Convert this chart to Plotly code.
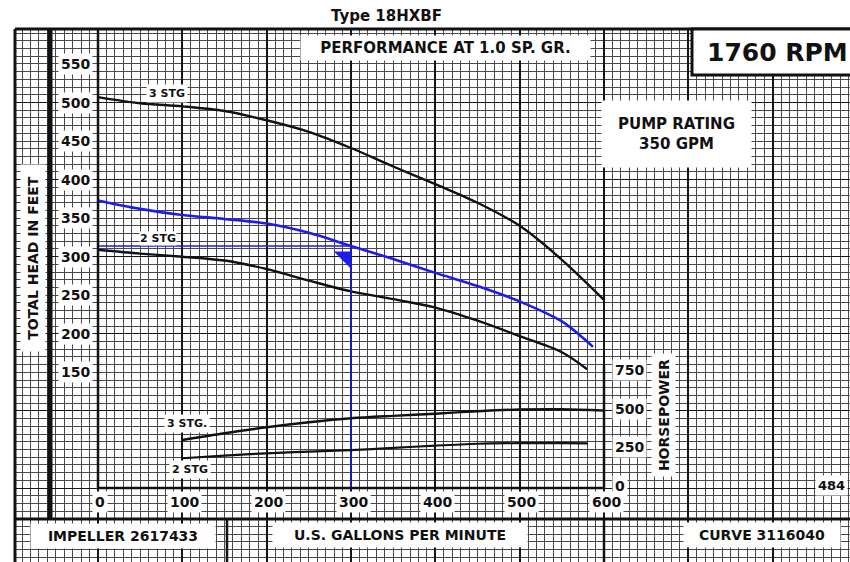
import plotly.graph_objects as go

W, H = 850, 562

# ---- curve data (flow in US GPM, head in feet, power in HP) ----
gpm_3stg = [0, 50, 100, 150, 200, 250, 300, 350, 400, 450, 500, 550, 600]
head_3stg = [507, 499, 495, 489, 477, 462, 441, 417, 394, 370, 340, 296, 244]

gpm_2stg = [0, 50, 100, 150, 200, 250, 300, 350, 400, 450, 500, 550, 580]
head_2stg = [309, 304, 300, 295, 284, 269, 255, 245, 234, 217, 197, 176, 154]

gpm_trim = [0, 50, 100, 150, 200, 250, 300, 350, 400, 450, 500, 550, 587]
head_trim = [373, 362, 354, 349, 343, 331, 314, 297, 279, 262, 242, 216, 183]

gpm_hp3 = [100, 150, 200, 250, 300, 350, 400, 450, 500, 550, 600]
hp_3stg = [311, 355, 394, 426, 452, 468, 482, 498, 509, 511, 502]

gpm_hp2 = [100, 150, 200, 250, 300, 350, 400, 450, 500, 550, 581]
hp_2stg = [193, 210, 225, 236, 246, 260, 275, 287, 291, 291, 290]

duty_gpm = 300
duty_head = 314

gpm_ticks = [0, 100, 200, 300, 400, 500, 600]
head_ticks = [150, 200, 250, 300, 350, 400, 450, 500, 550]
hp_ticks = [0, 250, 500, 750]

# ---- sheet geometry (pixels) ----
X0_PX, GPM_PX = 98, (604 - 98) / 600      # pixel of 0 GPM, pixels per GPM
Y0_PX, FT_PX = 488, 0.771                 # pixel of 0 ft, pixels per foot
HP_PER_FT = 5                             # horsepower scale = 5 x head scale
SHEET_L, SHEET_T = 15, 29

x_range = [(SHEET_L - X0_PX) / GPM_PX, (W - X0_PX) / GPM_PX]
y_range = [(Y0_PX - H) / FT_PX, (Y0_PX - SHEET_T) / FT_PX]

FONT = "DejaVu Sans"
INK = "#111111"
BLUE = "#1d1de8"


def px(x):
    return x / W


def py(y):
    return 1 - y / H


fig = go.Figure()

line_kw = dict(shape="spline", smoothing=0.9)
fig.add_trace(go.Scatter(x=gpm_3stg, y=head_3stg, mode="lines",
                         line=dict(color=INK, width=2.4, **line_kw)))
fig.add_trace(go.Scatter(x=gpm_2stg, y=head_2stg, mode="lines",
                         line=dict(color=INK, width=2.4, **line_kw)))
fig.add_trace(go.Scatter(x=gpm_trim, y=head_trim, mode="lines",
                         line=dict(color=BLUE, width=2.6, **line_kw)))
fig.add_trace(go.Scatter(x=gpm_hp3, y=hp_3stg, yaxis="y2", mode="lines",
                         line=dict(color=INK, width=2.4, **line_kw)))
fig.add_trace(go.Scatter(x=gpm_hp2, y=hp_2stg, yaxis="y2", mode="lines",
                         line=dict(color=INK, width=2.2, **line_kw)))

# duty point guide lines
fig.add_trace(go.Scatter(x=[0, duty_gpm, duty_gpm], y=[duty_head, duty_head, 0],
                         mode="lines", line=dict(color=BLUE, width=1.5)))
# arrowhead: right-angle corner of the marker sits on the duty point
MK = 19
r = MK / 2
fig.add_trace(go.Scatter(x=[duty_gpm - 0.6 * r / GPM_PX],
                         y=[duty_head - 1.2 * r / FT_PX],
                         mode="markers",
                         marker=dict(symbol="triangle-ne", size=MK, color=BLUE,
                                     line=dict(width=0))))

# ---- frame lines ----
shapes = []


def seg(x0, y0, x1, y1, w, xref="paper", yref="paper"):
    shapes.append(dict(type="line", x0=x0, y0=y0, x1=x1, y1=y1, xref=xref, yref=yref,
                       line=dict(color=INK, width=w), layer="above"))


seg(px(SHEET_L), py(SHEET_T), px(W), py(SHEET_T), 3)
seg(px(SHEET_L), py(SHEET_T), px(SHEET_L), py(H), 3)
seg(px(50), py(SHEET_T), px(50), py(519), 5)
seg(px(SHEET_L), py(519), px(W), py(519), 3)
seg(px(227), py(519), px(227), py(H), 2.5)
seg(px(604), py(519), px(604), py(H), 2.5)
# chart box
shapes.append(dict(type="line", xref="x", yref="paper", x0=0, x1=0, y0=py(SHEET_T),
                   y1=py(Y0_PX), line=dict(color=INK, width=2.5), layer="above"))
seg(0, 0, gpm_ticks[-1], 0, 2.5, xref="x", yref="y")
seg(gpm_ticks[-1], 0, gpm_ticks[-1], hp_ticks[-1] + 50, 2.5, xref="x", yref="y2")
# speed box
shapes.append(dict(type="rect", xref="paper", yref="paper", x0=px(692), x1=px(W + 10),
                   y0=py(75), y1=py(SHEET_T), fillcolor="white",
                   line=dict(color=INK, width=3), layer="above"))

# ---- text ----
ann = []


def label(text, x, y, size, xref="paper", yref="paper", **kw):
    d = dict(text=f"<b>{text}</b>", x=x, y=y, xref=xref, yref=yref, showarrow=False,
             xanchor="center", yanchor="middle",
             font=dict(family=FONT, size=size, color=INK), bgcolor="white", borderpad=2)
    d.update(kw)
    ann.append(d)


for h in head_ticks:
    label(h, 0, h, 14, xref="x", yref="y", xshift=-23)
for hp in hp_ticks:
    label(hp, gpm_ticks[-1], hp, 14, xref="x", yref="y2", xanchor="left", xshift=8, yshift=2)
for g in gpm_ticks:
    label(g, g, 0, 14, xref="x", yref="y", yshift=-14, xshift=2)

label("3 STG", 82, 512, 11, xref="x", yref="y")
label("2 STG", 71, 323, 11, xref="x", yref="y", borderpad=0)
label("3 STG.", 105, 421, 11, xref="x", yref="y2")
label("2 STG", 109, 123, 11, xref="x", yref="y2")

label("Type 18HXBF", px(386), py(16), 15, bgcolor="rgba(0,0,0,0)")
label("PERFORMANCE AT 1.0 SP. GR.", px(446), py(48), 15, width=285, height=20)
label("1760 RPM", px(777), py(52), 25, bgcolor="rgba(0,0,0,0)")
label("PUMP RATING<br>350 GPM", px(676), py(134), 15, width=145, height=62)
label("TOTAL HEAD IN FEET", px(33), py(258), 14, textangle=-90, width=182, height=20)
label("HORSEPOWER", px(663), py(415), 14, textangle=-90, width=118, height=19)
label("484", px(831), py(485), 13)
label("IMPELLER 2617433", px(123), py(536), 14, width=180, height=20)
label("U.S. GALLONS PER MINUTE", px(400), py(535), 14, width=250, height=20)
label("CURVE 3116040", px(762), py(535), 14, width=152, height=20)

fig.update_layout(
    width=W, height=H,
    margin=dict(l=0, r=0, t=0, b=0, autoexpand=False),
    paper_bgcolor="white", plot_bgcolor="white",
    showlegend=False,
    shapes=shapes, annotations=ann,
    xaxis=dict(domain=[px(SHEET_L), 1], range=x_range, tick0=0, dtick=100,
               showgrid=True, gridcolor="#151515", gridwidth=1.6,
               minor=dict(dtick=10, tick0=0, showgrid=True, gridcolor="#484848", gridwidth=1),
               showticklabels=False, ticks="", zeroline=False, showline=False),
    yaxis=dict(domain=[0, py(SHEET_T)], range=y_range, tick0=0, dtick=100,
               showgrid=True, gridcolor="#151515", gridwidth=1.4,
               minor=dict(dtick=10, tick0=0, showgrid=True, gridcolor="#484848", gridwidth=1),
               showticklabels=False, ticks="", zeroline=False, showline=False),
    yaxis2=dict(overlaying="y", range=[v * HP_PER_FT for v in y_range],
                showgrid=False, showticklabels=False, ticks="", zeroline=False),
)

fig.write_html("out.html")
